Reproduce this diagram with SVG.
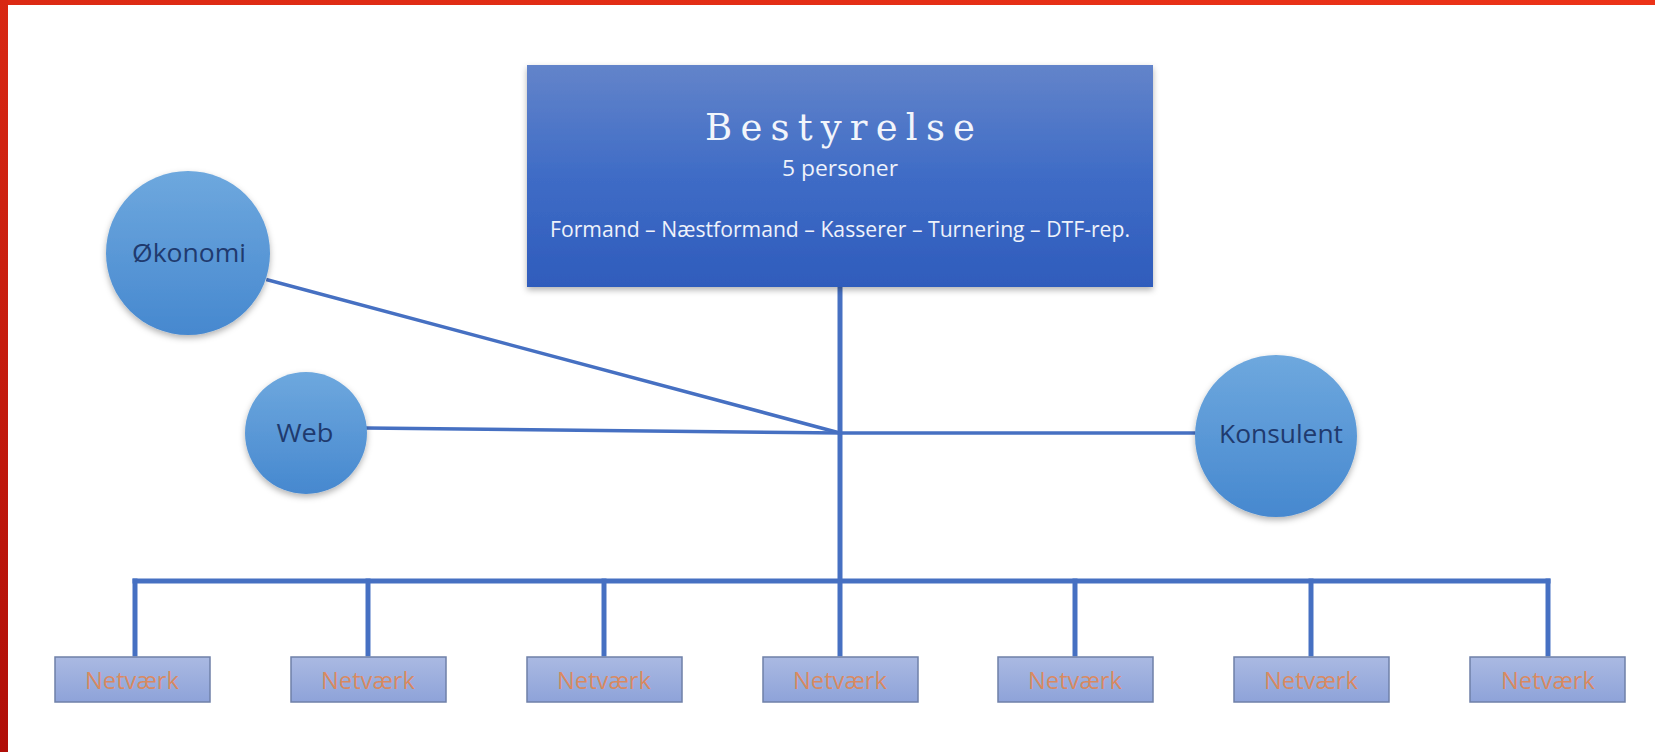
<svg xmlns="http://www.w3.org/2000/svg" width="1655" height="752" viewBox="0 0 1655 752">
<defs>
  <linearGradient id="gTop" x1="0" y1="0" x2="1" y2="0">
    <stop offset="0" stop-color="#dc2a14"/>
    <stop offset="1" stop-color="#ec3318"/>
  </linearGradient>
  <linearGradient id="gLeft" x1="0" y1="0" x2="0" y2="1">
    <stop offset="0" stop-color="#d82813"/>
    <stop offset="1" stop-color="#b00e08"/>
  </linearGradient>
  <linearGradient id="gBoard" x1="0" y1="0" x2="0" y2="1">
    <stop offset="0" stop-color="#6384ca"/>
    <stop offset="0.5" stop-color="#3f6cc6"/>
    <stop offset="1" stop-color="#2f5cbc"/>
  </linearGradient>
  <linearGradient id="gCircle" x1="0" y1="0" x2="0" y2="1">
    <stop offset="0" stop-color="#6ea8de"/>
    <stop offset="1" stop-color="#4688cf"/>
  </linearGradient>
  <linearGradient id="gNet" x1="0" y1="0" x2="0" y2="1">
    <stop offset="0" stop-color="#aab9e2"/>
    <stop offset="1" stop-color="#8ea3d9"/>
  </linearGradient>
  <filter id="shadow" x="-20%" y="-20%" width="140%" height="140%">
    <feDropShadow dx="0" dy="3" stdDeviation="3" flood-color="#000" flood-opacity="0.3"/>
  </filter>
</defs>
<style>
  .conn { stroke: #4670c2; fill: none; stroke-linecap: square; }
  .thick { stroke-width: 5; }
  .thin { stroke-width: 3.5; }
  .circle { fill: url(#gCircle); filter: url(#shadow); }
  .ctext { font-family: "Open Sans", "Liberation Sans", sans-serif; font-size: 25px; fill: #1f3a6e; text-anchor: middle; }
  .net { fill: url(#gNet); stroke: #6f80a8; stroke-width: 1.5; }
  .ntext { font-family: "Open Sans", "Liberation Sans", sans-serif; font-size: 23px; fill: #e4834a; fill-opacity: 0.85; text-anchor: middle; }
  .wtext { font-family: "Open Sans", "Liberation Sans", sans-serif; fill: #eef2fa; text-anchor: middle; }
</style>
<rect width="1655" height="752" fill="#ffffff"/>
<rect x="0" y="0" width="1655" height="5" fill="url(#gTop)"/>
<rect x="0" y="0" width="8" height="752" fill="url(#gLeft)"/>

<g id="connectors">
  <line class="conn thick" x1="840" y1="287" x2="840" y2="654"/>
  <line class="conn thin" x1="268" y1="280" x2="840" y2="433"/>
  <line class="conn thin" x1="367" y1="428" x2="840" y2="433"/>
  <line class="conn thin" x1="840" y1="433" x2="1194" y2="433"/>
  <line class="conn thick" x1="135" y1="581" x2="1548" y2="581"/>
  <line class="conn thick" x1="135" y1="581" x2="135" y2="654"/>
  <line class="conn thick" x1="368" y1="581" x2="368" y2="654"/>
  <line class="conn thick" x1="604" y1="581" x2="604" y2="654"/>
  <line class="conn thick" x1="1075" y1="581" x2="1075" y2="654"/>
  <line class="conn thick" x1="1311" y1="581" x2="1311" y2="654"/>
  <line class="conn thick" x1="1548" y1="581" x2="1548" y2="654"/>
</g>

<g id="bestyrelse">
  <rect x="527" y="65" width="626" height="222" fill="url(#gBoard)" filter="url(#shadow)"/>
  <text x="840" y="140" font-family="'DejaVu Serif', 'Liberation Serif', serif" font-size="37" fill="#f2f5fb" text-anchor="middle" textLength="270" lengthAdjust="spacing">Bestyrelse</text>
  <text class="wtext" x="840" y="176" font-size="22" textLength="116" lengthAdjust="spacingAndGlyphs">5 personer</text>
  <text class="wtext" x="840" y="237" font-size="21" textLength="580" lengthAdjust="spacingAndGlyphs">Formand – Næstformand – Kasserer – Turnering – DTF-rep.</text>
</g>

<g id="okonomi">
  <circle class="circle" cx="188" cy="253" r="82"/>
  <text class="ctext" x="189" y="262" textLength="114" lengthAdjust="spacingAndGlyphs">Økonomi</text>
</g>
<g id="web">
  <circle class="circle" cx="306" cy="433" r="61"/>
  <text class="ctext" x="305" y="442" textLength="57" lengthAdjust="spacingAndGlyphs">Web</text>
</g>
<g id="konsulent">
  <circle class="circle" cx="1276" cy="436" r="81"/>
  <text class="ctext" x="1281" y="443" textLength="124" lengthAdjust="spacingAndGlyphs">Konsulent</text>
</g>

<g id="net1"><rect class="net" x="55" y="657" width="155" height="45"/><text class="ntext" x="132" y="689" textLength="94" lengthAdjust="spacingAndGlyphs">Netværk</text></g>
<g id="net2"><rect class="net" x="291" y="657" width="155" height="45"/><text class="ntext" x="368" y="689" textLength="94" lengthAdjust="spacingAndGlyphs">Netværk</text></g>
<g id="net3"><rect class="net" x="527" y="657" width="155" height="45"/><text class="ntext" x="604" y="689" textLength="94" lengthAdjust="spacingAndGlyphs">Netværk</text></g>
<g id="net4"><rect class="net" x="763" y="657" width="155" height="45"/><text class="ntext" x="840" y="689" textLength="94" lengthAdjust="spacingAndGlyphs">Netværk</text></g>
<g id="net5"><rect class="net" x="998" y="657" width="155" height="45"/><text class="ntext" x="1075" y="689" textLength="94" lengthAdjust="spacingAndGlyphs">Netværk</text></g>
<g id="net6"><rect class="net" x="1234" y="657" width="155" height="45"/><text class="ntext" x="1311" y="689" textLength="94" lengthAdjust="spacingAndGlyphs">Netværk</text></g>
<g id="net7"><rect class="net" x="1470" y="657" width="155" height="45"/><text class="ntext" x="1548" y="689" textLength="94" lengthAdjust="spacingAndGlyphs">Netværk</text></g>
</svg>
